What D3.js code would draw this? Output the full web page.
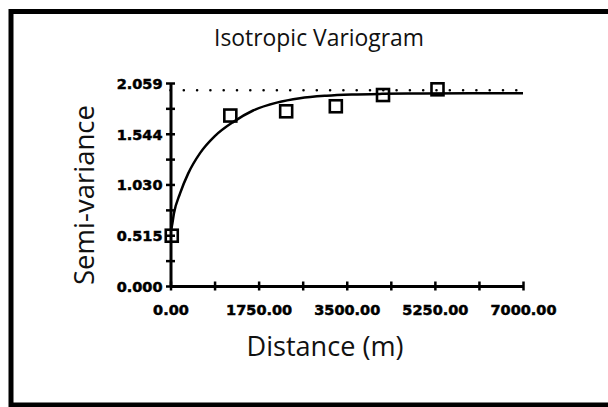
<!DOCTYPE html>
<html>
<head>
<meta charset="utf-8">
<script src="https://cdn.jsdelivr.net/npm/d3@7"></script>
<style>
  body { margin: 0; background: #fff; overflow: hidden; }
  svg { display: block; }
</style>
</head>
<body>
<div id="chart"></div>
<script>
// observed semi-variance (distance in m)
var lagDistance = [25, 1188, 2297, 3283, 4220, 5302];
var semiVariance = [0.51, 1.729, 1.772, 1.823, 1.937, 1.995];

// fitted model line
var modelDistance = [0, 25, 70, 190, 350, 590, 880, 1250, 1640, 2110, 2570, 3100, 3600, 4200, 5000, 6000, 7000];
var modelValue = [0.56, 0.60, 0.74, 0.94, 1.14, 1.35, 1.52, 1.665, 1.78, 1.86, 1.905, 1.93, 1.942, 1.949, 1.953, 1.955, 1.956];

// sample variance (dotted line)
var sill = 1.985;

var xTicks = [0, 875, 1750, 2625, 3500, 4375, 5250, 6125, 7000];
var xTickLabels = ['0.00', '', '1750.00', '', '3500.00', '', '5250.00', '', '7000.00'];
var yTicks = [0, 0.2574, 0.515, 0.7721, 1.030, 1.287, 1.544, 1.802, 2.059];
var yTickLabels = ['0.000', '', '0.515', '', '1.030', '', '1.544', '', '2.059'];

var attrs = {
  svgWidth: 608,
  svgHeight: 407,
  axisLeft: 170.5,
  axisRight: 523,
  axisTop: 83,
  axisBottom: 286
};

var svg = d3.select('#chart')
  .append('svg')
  .attr('width', attrs.svgWidth)
  .attr('height', attrs.svgHeight);

// outer frame: left, top and bottom edges (right one is off the picture)
svg.append('path')
  .attr('d', 'M' + (attrs.svgWidth + 5) + ',11.5H11V405H' + (attrs.svgWidth + 5))
  .attr('fill', 'none')
  .attr('stroke', '#000')
  .attr('stroke-width', 5);

var xScale = d3.scaleLinear()
  .domain([0, 7000])
  .range([attrs.axisLeft, attrs.axisRight]);

var yScale = d3.scaleLinear()
  .domain([0, 2.059])
  .range([attrs.axisBottom, attrs.axisTop]);

var chart = svg.append('g').attr('class', 'chart');

// dotted sill line
chart.append('line')
  .attr('x1', xScale(0))
  .attr('x2', xScale(6950))
  .attr('y1', yScale(sill))
  .attr('y2', yScale(sill))
  .attr('stroke', '#000')
  .attr('stroke-width', 2.6)
  .attr('stroke-linecap', 'round')
  .attr('stroke-dasharray', '0,13.3');

// model curve
var line = d3.line()
  .x(function (d, i) { return xScale(modelDistance[i]); })
  .y(function (d) { return yScale(d); })
  .curve(d3.curveMonotoneX);

chart.append('path')
  .datum(modelValue)
  .attr('d', line)
  .attr('fill', 'none')
  .attr('stroke', '#000')
  .attr('stroke-width', 2.5);

// observed points
var sq = 12;
chart.selectAll('.pt')
  .data(semiVariance)
  .enter()
  .append('rect')
  .attr('class', 'pt')
  .attr('x', function (d, i) { return xScale(lagDistance[i]) - sq / 2; })
  .attr('y', function (d) { return yScale(d) - sq / 2; })
  .attr('width', sq)
  .attr('height', sq)
  .attr('fill', 'none')
  .attr('stroke', '#000')
  .attr('stroke-width', 2.6);

// axes
var xAxis = d3.axisBottom(xScale)
  .tickValues(xTicks)
  .tickSizeOuter(0)
  .tickFormat(function (d, i) { return xTickLabels[i]; });

var yAxis = d3.axisLeft(yScale)
  .tickValues(yTicks)
  .tickSizeOuter(0)
  .tickFormat(function (d, i) { return yTickLabels[i]; });

var gx = chart.append('g')
  .attr('class', 'xaxis')
  .attr('transform', 'translate(0,' + attrs.axisBottom + ')')
  .call(xAxis);

var gy = chart.append('g')
  .attr('class', 'yaxis')
  .attr('transform', 'translate(' + attrs.axisLeft + ',0)')
  .call(yAxis);

chart.selectAll('.domain')
  .attr('stroke', '#000')
  .attr('stroke-width', 3);

gx.selectAll('.tick line')
  .attr('y1', -4.5)
  .attr('y2', 4.5)
  .attr('stroke', '#000')
  .attr('stroke-width', 2.5);

gy.selectAll('.tick line')
  .attr('x1', -4.5)
  .attr('x2', 4.5)
  .attr('stroke', '#000')
  .attr('stroke-width', 2.5);

chart.selectAll('.tick text')
  .attr('font-family', '"DejaVu Sans", sans-serif')
  .attr('font-weight', 'bold')
  .attr('font-size', 14.5)
  .attr('fill', '#000')
  .attr('stroke', '#000')
  .attr('stroke-width', 0.5);

gx.selectAll('.tick text')
  .attr('y', 29)
  .attr('dy', 0);

gy.selectAll('.tick text')
  .attr('x', -8)
  .attr('dy', '0.36em');

// titles
svg.append('text')
  .attr('x', 319)
  .attr('y', 46)
  .attr('text-anchor', 'middle')
  .attr('font-family', '"Open Sans", sans-serif')
  .attr('font-size', 23)
  .attr('textLength', 210)
  .attr('lengthAdjust', 'spacingAndGlyphs')
  .attr('fill', '#111')
  .text('Isotropic Variogram');

svg.append('text')
  .attr('x', 325)
  .attr('y', 356)
  .attr('text-anchor', 'middle')
  .attr('font-family', '"Open Sans", sans-serif')
  .attr('font-size', 27)
  .attr('textLength', 157)
  .attr('lengthAdjust', 'spacingAndGlyphs')
  .attr('fill', '#111')
  .text('Distance (m)');

svg.append('text')
  .attr('transform', 'translate(94,195) rotate(-90)')
  .attr('text-anchor', 'middle')
  .attr('font-family', '"Open Sans", sans-serif')
  .attr('font-size', 27)
  .attr('textLength', 180)
  .attr('lengthAdjust', 'spacingAndGlyphs')
  .attr('fill', '#111')
  .text('Semi-variance');
</script>
</body>
</html>
